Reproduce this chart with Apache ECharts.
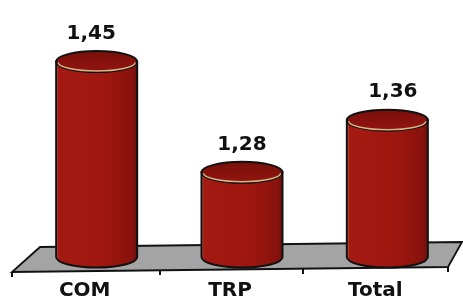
<!DOCTYPE html>
<html>
<head>
<meta charset="utf-8">
<script src="https://cdn.jsdelivr.net/npm/echarts@6/dist/echarts.min.js"></script>
<style>
html, body { margin: 0; padding: 0; background: #fff; }
#chart { width: 463px; height: 305px; }
</style>
</head>
<body>
<div id="chart"></div>
<script>
var categories = ['COM', 'TRP', 'Total'];
var values = [1.45, 1.28, 1.36];
var axisMin = 1.15;
var axisMax = 1.5;

var FONT = '"DejaVu Sans", sans-serif';

function fmt(v) {
  return v.toFixed(2).replace('.', ',');
}

function renderCylinder(params, api) {
  var i = api.value(0);
  var top = api.coord([i, api.value(1)]);
  var base = api.coord([i, axisMin]);
  var rx = 40.5, ry = 10.5;
  var cx = top[0];
  var x0 = cx - rx, x1 = cx + rx;
  var yt = top[1], yb = base[1];

  var body = 'M' + x0 + ',' + yt + ' L' + x0 + ',' + yb +
    ' A' + rx + ',' + ry + ' 0 0 0 ' + x1 + ',' + yb +
    ' L' + x1 + ',' + yt + ' Z';
  var lid = 'M' + x0 + ',' + yt +
    ' A' + rx + ',' + ry + ' 0 1 1 ' + x1 + ',' + yt +
    ' A' + rx + ',' + ry + ' 0 1 1 ' + x0 + ',' + yt + ' Z';
  var rim = 'M' + (x0 + 2) + ',' + (yt + 1) +
    ' A' + (rx - 2) + ',' + (ry - 2) + ' 0 0 0 ' + (x1 - 2) + ',' + (yt + 1);

  return {
    type: 'group',
    children: [
      {
        type: 'path',
        shape: { pathData: body },
        style: {
          fill: new echarts.graphic.LinearGradient(0, 0, 1, 0, [
            { offset: 0, color: '#d9b07a' },
            { offset: 0.04, color: '#a41a12' },
            { offset: 0.6, color: '#9e170f' },
            { offset: 0.92, color: '#88120c' },
            { offset: 1, color: '#6e0e0a' }
          ]),
          stroke: '#111',
          lineWidth: 2
        }
      },
      {
        type: 'path',
        shape: { pathData: lid },
        style: {
          fill: new echarts.graphic.LinearGradient(0, 0, 0, 1, [
            { offset: 0, color: '#780f0b' },
            { offset: 1, color: '#94150f' }
          ]),
          stroke: '#111',
          lineWidth: 2
        }
      },
      {
        type: 'path',
        shape: { pathData: rim },
        style: { fill: null, stroke: '#d8b584', lineWidth: 1.5 }
      },
      {
        type: 'text',
        x: cx + (i - 1) * 5.5,
        y: yt - 28,
        style: {
          text: fmt(api.value(1)),
          align: 'center',
          verticalAlign: 'middle',
          font: 'bold 20px ' + FONT,
          fill: '#111'
        }
      }
    ]
  };
}

var chart = echarts.init(document.getElementById('chart'));
chart.setOption({
  animation: false,
  backgroundColor: '#fff',
  grid: { left: 24, right: 3, top: 29, bottom: 48 },
  xAxis: {
    type: 'category',
    data: categories,
    axisLine: { show: false },
    axisTick: { show: false },
    axisLabel: {
      margin: 24,
      padding: [0, 24, 0, 0],
      fontSize: 20,
      fontWeight: 'bold',
      fontFamily: FONT,
      color: '#111'
    }
  },
  yAxis: {
    type: 'value',
    min: axisMin,
    max: axisMax,
    show: false,
    splitLine: { show: false }
  },
  graphic: [
    {
      type: 'polygon',
      z: 0,
      shape: { points: [[40, 247], [462, 242], [448, 267], [12, 272]] },
      style: { fill: '#a4a4a4', stroke: '#111', lineWidth: 1.8 }
    },
    { type: 'line', z: 0, shape: { x1: 12, y1: 272, x2: 12, y2: 277 }, style: { stroke: '#111', lineWidth: 2 } },
    { type: 'line', z: 0, shape: { x1: 160, y1: 270, x2: 160, y2: 275 }, style: { stroke: '#111', lineWidth: 2 } },
    { type: 'line', z: 0, shape: { x1: 303, y1: 269, x2: 303, y2: 274 }, style: { stroke: '#111', lineWidth: 2 } },
    { type: 'line', z: 0, shape: { x1: 448, y1: 267, x2: 448, y2: 272 }, style: { stroke: '#111', lineWidth: 2 } }
  ],
  series: [{
    type: 'custom',
    z: 10,
    renderItem: renderCylinder,
    encode: { x: 0, y: 1 },
    data: categories.map(function (c, i) { return [i, values[i]]; })
  }]
});
</script>
</body>
</html>
